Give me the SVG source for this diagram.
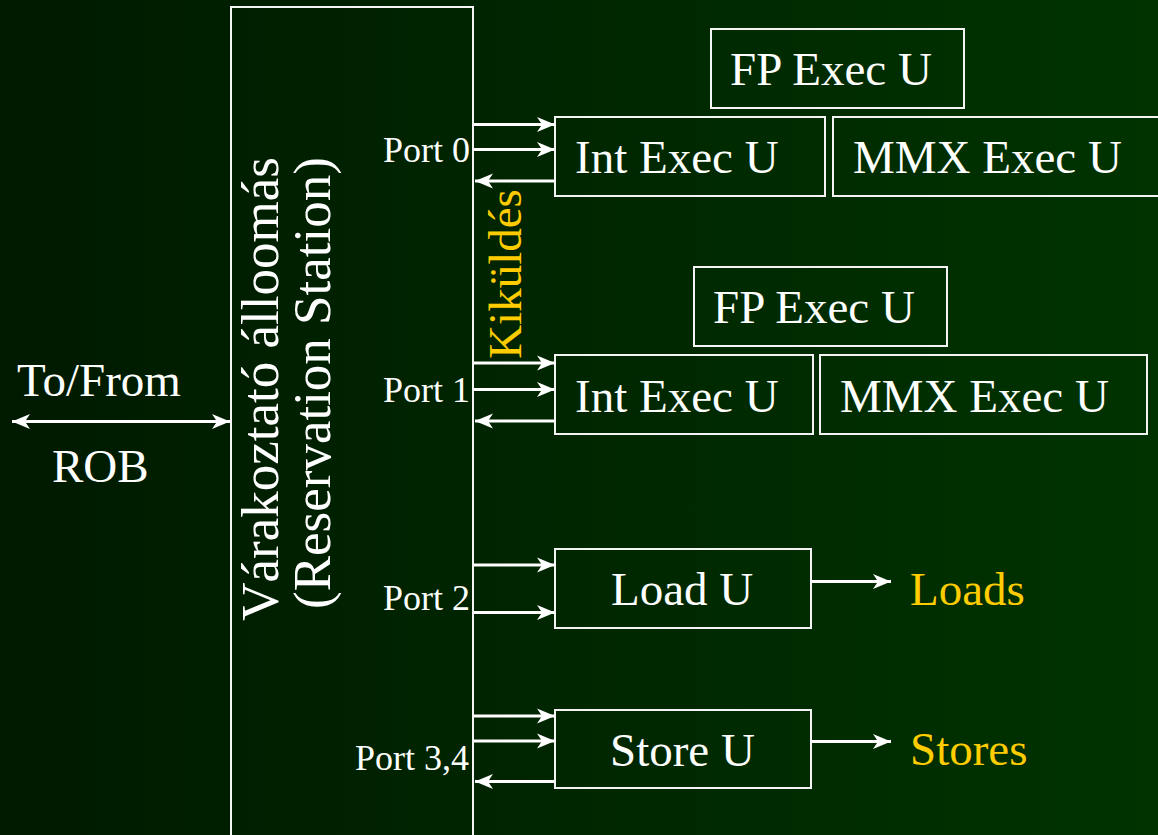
<svg xmlns="http://www.w3.org/2000/svg" width="1158" height="835" viewBox="0 0 1158 835">
<defs>
<linearGradient id="bg" x1="0" y1="0" x2="1" y2="0">
<stop offset="0" stop-color="#001a00"/>
<stop offset="1" stop-color="#003300"/>
</linearGradient>
<marker id="ah" markerUnits="userSpaceOnUse" markerWidth="20" markerHeight="18" refX="18" refY="9" orient="auto-start-reverse" viewBox="0 0 20 18" overflow="visible">
<path d="M0,1.5 L18,9 L0,16.5 L5,9 Z" fill="#ffffff"/>
</marker>
<style>
.box{fill:none;stroke:#f4f4f4;stroke-width:2}
.t{font-family:"Liberation Serif","Times New Roman",serif;fill:#ffffff}
.big{font-size:47px}
.port{font-size:36px}
.y{fill:#ffcc00}
.c{stroke:#ffffff;stroke-width:3;fill:none}
</style>
</defs>
<rect x="0" y="0" width="1158" height="835" fill="url(#bg)"/>

<g id="rs">
<rect class="box" x="231" y="7" width="242" height="840"/>
<text class="t" font-size="53" transform="translate(278,389) rotate(-90)" text-anchor="middle">Várakoztató álloomás</text>
<text class="t" font-size="53" transform="translate(330,383) rotate(-90)" text-anchor="middle">(Reservation Station)</text>
<text class="t port" x="470" y="162" text-anchor="end">Port 0</text>
<text class="t port" x="470" y="402" text-anchor="end">Port 1</text>
<text class="t port" x="470" y="610" text-anchor="end">Port 2</text>
<text class="t port" x="469" y="770" text-anchor="end">Port 3,4</text>
</g>

<g id="kikuldes">
<text class="t y" font-size="47" transform="translate(521,274) rotate(-90)" text-anchor="middle">Kiküldés</text>
</g>

<g id="rob">
<text class="t big" x="17" y="396">To/From</text>
<text class="t big" x="52" y="482">ROB</text>
</g>

<g id="fp0"><rect class="box" x="711" y="29" width="253" height="79"/><text class="t big" x="730" y="85">FP Exec U</text></g>
<g id="int0"><rect class="box" x="555" y="117" width="270" height="79"/><text class="t big" x="575" y="173">Int Exec U</text></g>
<g id="mmx0"><rect class="box" x="833" y="117" width="330" height="79"/><text class="t big" x="853" y="173">MMX Exec U</text></g>
<g id="fp1"><rect class="box" x="694" y="267" width="253" height="79"/><text class="t big" x="713" y="323">FP Exec U</text></g>
<g id="int1"><rect class="box" x="555" y="355" width="258" height="79"/><text class="t big" x="575" y="412">Int Exec U</text></g>
<g id="mmx1"><rect class="box" x="820" y="355" width="327" height="79"/><text class="t big" x="840" y="412">MMX Exec U</text></g>
<g id="load"><rect class="box" x="555" y="549" width="256" height="79"/><text class="t big" x="611" y="605">Load U</text></g>
<g id="store"><rect class="box" x="555" y="710" width="256" height="78"/><text class="t big" x="610" y="766">Store U</text></g>
<g id="loads"><text class="t big y" x="910" y="605">Loads</text></g>
<g id="stores"><text class="t big y" x="910" y="765">Stores</text></g>

<g id="connectors">
<line class="c" x1="12" y1="421.5" x2="230" y2="421.5" marker-start="url(#ah)" marker-end="url(#ah)"/>
<line class="c" x1="474" y1="124.5" x2="555" y2="124.5" marker-end="url(#ah)"/>
<line class="c" x1="474" y1="149.5" x2="555" y2="149.5" marker-end="url(#ah)"/>
<line class="c" x1="554" y1="181" x2="475" y2="181" marker-end="url(#ah)"/>
<line class="c" x1="474" y1="363" x2="555" y2="363" marker-end="url(#ah)"/>
<line class="c" x1="474" y1="389.5" x2="555" y2="389.5" marker-end="url(#ah)"/>
<line class="c" x1="554" y1="421" x2="475" y2="421" marker-end="url(#ah)"/>
<line class="c" x1="474" y1="565" x2="555" y2="565" marker-end="url(#ah)"/>
<line class="c" x1="474" y1="612.5" x2="555" y2="612.5" marker-end="url(#ah)"/>
<line class="c" x1="474" y1="716" x2="555" y2="716" marker-end="url(#ah)"/>
<line class="c" x1="474" y1="741" x2="555" y2="741" marker-end="url(#ah)"/>
<line class="c" x1="554" y1="781.5" x2="475" y2="781.5" marker-end="url(#ah)"/>
<line class="c" x1="812" y1="581.5" x2="891" y2="581.5" marker-end="url(#ah)"/>
<line class="c" x1="812" y1="741.5" x2="891" y2="741.5" marker-end="url(#ah)"/>
</g>
</svg>
